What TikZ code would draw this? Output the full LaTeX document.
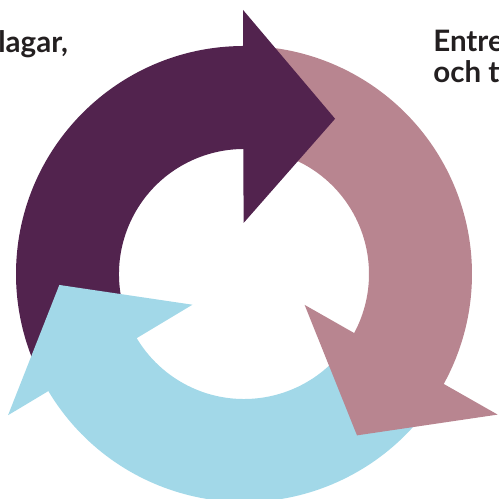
\documentclass[tikz,border=0pt]{standalone}
\usepackage{fontspec}
\setmainfont{Lato}
\usetikzlibrary{positioning}
\definecolor{cyclepurple}{RGB}{82,35,78}
\definecolor{cyclepink}{RGB}{184,133,144}
\definecolor{cycleblue}{RGB}{162,216,232}
\definecolor{cycletext}{RGB}{35,31,32}
\tikzset{
  x=0.02cm, y=0.02cm,
  purplepart/.style={fill=cyclepurple},
  pinkpart/.style={fill=cyclepink},
  bluepart/.style={fill=cycleblue},
  cycletextstyle/.style={font=\bfseries\fontsize{16.8}{19}\selectfont, text=cycletext, inner sep=0pt},
}

\begin{document}
\begin{tikzpicture}
  \useasboundingbox (0,0) rectangle (498,499);

  % Texts
  \node[cycletextstyle, anchor=base west] (lagar) at (-2,446) {lagar,};
  \node[cycletextstyle, anchor=base west] (entre) at (433,447) {Entre};
  \node[cycletextstyle, anchor=base west] (och) at ([yshift=-0.62cm]entre.base west) {och ti};

  \begin{scope}[shift={(244,225)}]
    % Shafts
    \fill[purplepart] (89:228) arc[start angle=89, end angle=205, radius=228]
      -- (205:125) arc[start angle=205, end angle=89, radius=125] -- cycle;
    \fill[pinkpart] (-29.5:228) arc[start angle=-29.5, end angle=85, radius=228]
      -- (85:125) arc[start angle=85, end angle=-29.5, radius=125] -- cycle;
    \fill[bluepart] (210:228) arc[start angle=210, end angle=327, radius=228]
      -- (327:125) arc[start angle=327, end angle=210, radius=125] -- cycle;

    % Heads
    \fill[purplepart] (90.5:51) -- (90.2:264) -- (59.6:180) -- cycle;
    \fill[pinkpart] (-27:68) -- (-29:290) -- (-55:197) -- cycle;
    \fill[bluepart] (210.8:60) -- (210.9:275) -- (183.4:185) -- cycle;
  \end{scope}
\end{tikzpicture}
\end{document}
